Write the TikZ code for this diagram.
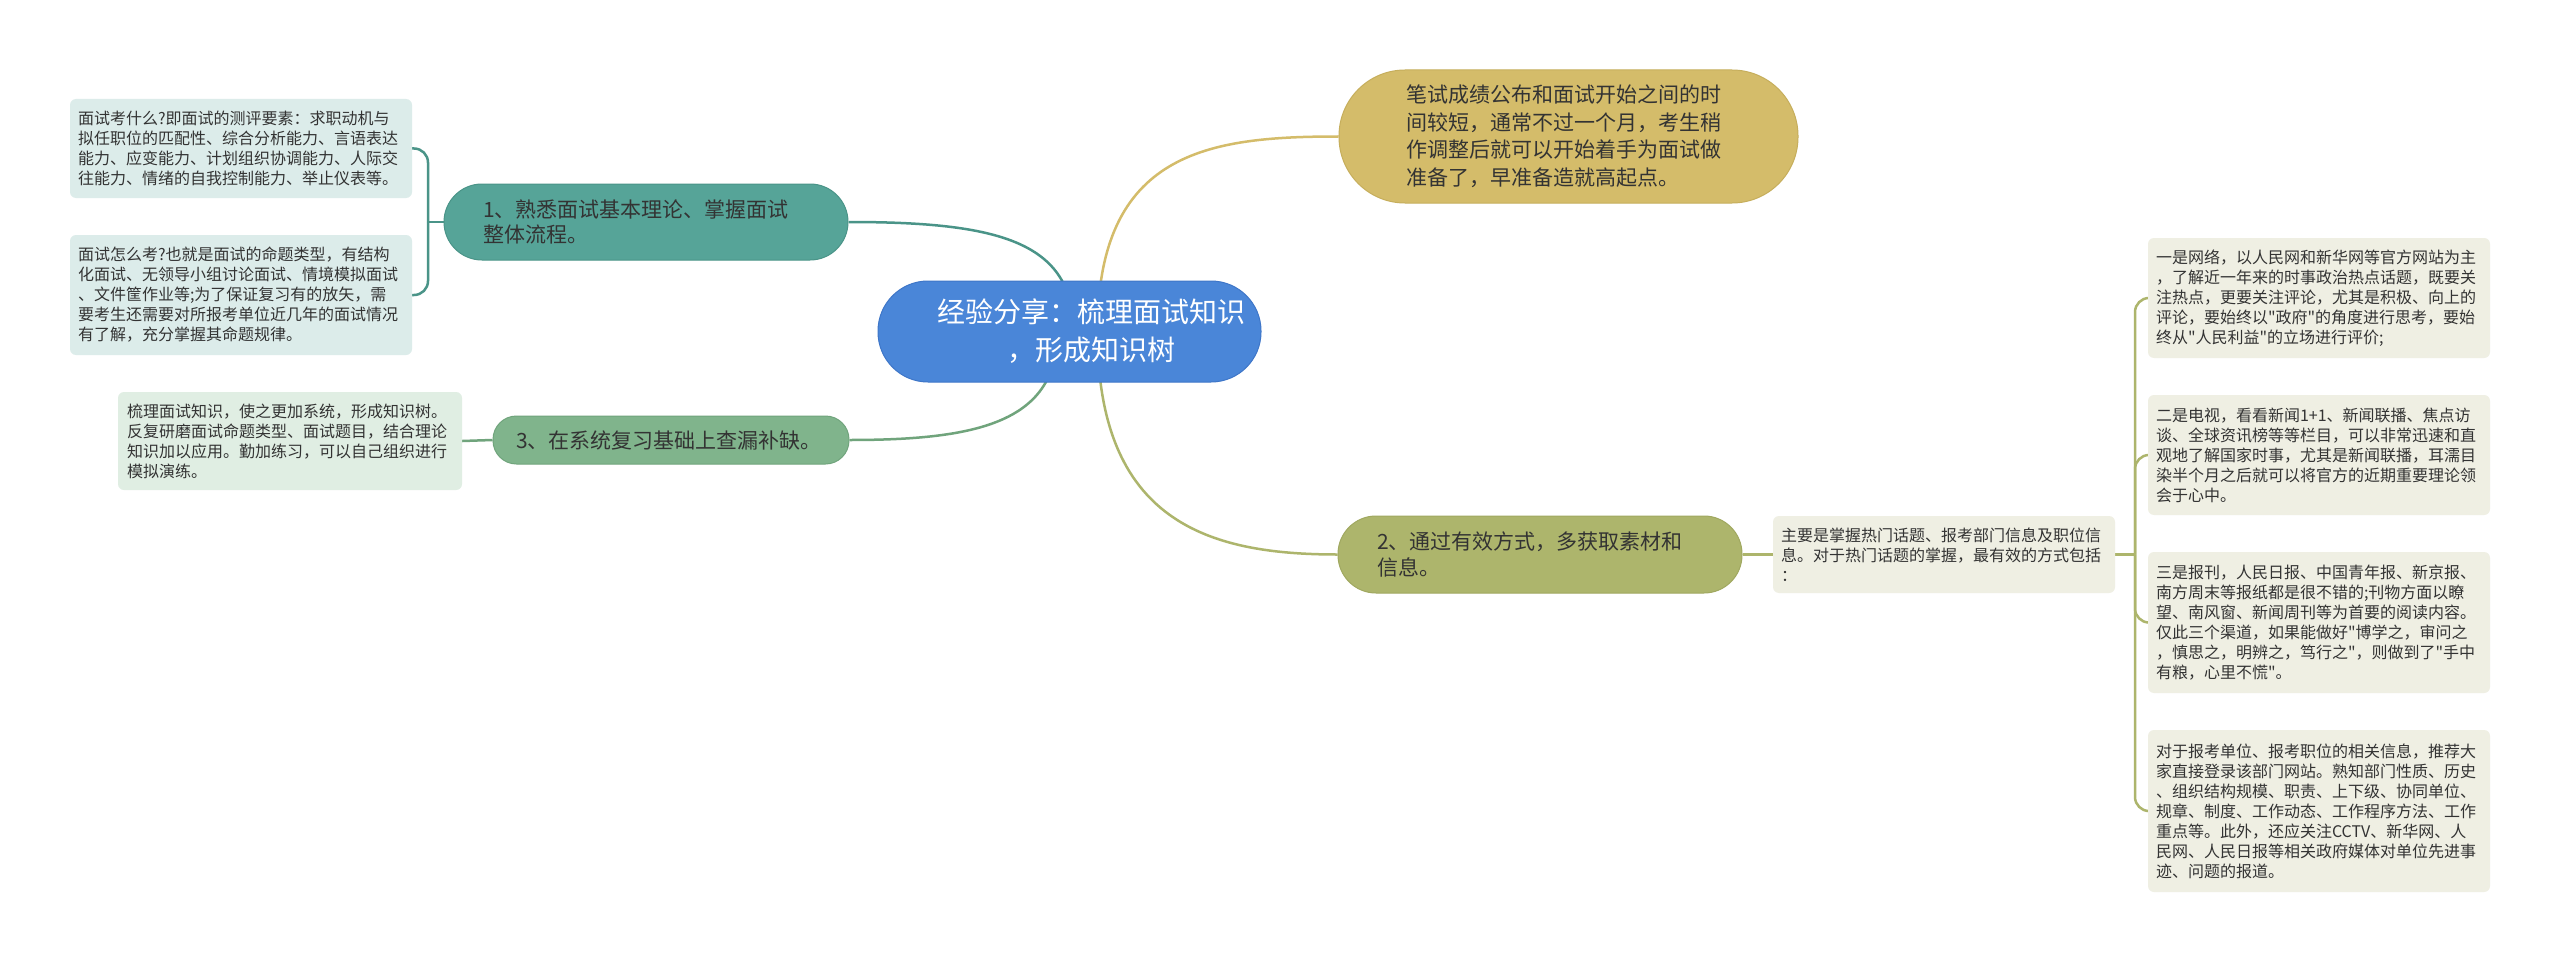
\documentclass[tikz,border=0pt]{standalone}
\usepackage{fontspec}
\setmainfont{Noto Sans CJK SC}[Ligatures=TeXOff]
\usetikzlibrary{calc}
\pgfdeclarelayer{bg}
\pgfsetlayers{bg,main}
\definecolor{cblue}{RGB}{74,134,216}
\definecolor{cblueb}{RGB}{62,118,200}
\definecolor{cteal}{RGB}{86,164,152}
\definecolor{ctealb}{RGB}{74,148,136}
\definecolor{cgreen}{RGB}{128,180,140}
\definecolor{cgreenb}{RGB}{112,164,124}
\definecolor{cgold}{RGB}{212,188,106}
\definecolor{cgoldb}{RGB}{198,174,92}
\definecolor{colive}{RGB}{173,181,108}
\definecolor{coliveb}{RGB}{160,168,96}
\definecolor{ltteal}{RGB}{220,236,234}
\definecolor{ltgreen}{RGB}{224,238,227}
\definecolor{ltolive}{RGB}{239,239,227}
\definecolor{txt}{RGB}{51,51,51}
\tikzset{
  x=1pt, y=-1pt,
  pill/.style={draw, line width=1pt, inner sep=0pt, align=left, text=txt,
    font=\fontsize{21}{25.5}\selectfont},
  leafbox/.style={inner sep=0pt, align=left, text=txt, rounded corners=6pt,
    font=\fontsize{16}{20}\selectfont},
  edge/.style={line width=2.5pt},
  bracket/.style={line width=2.5pt, rounded corners=14pt},
}
\begin{document}
\begin{tikzpicture}
\useasboundingbox (0,0) rectangle (2560,963);

% central
\node[draw=cblueb, fill=cblue, line width=1pt, inner sep=0pt, align=center, text=white,
  font=\fontsize{28}{38}\selectfont, rounded corners=50pt,
  minimum width=383pt, minimum height=101pt, text width=370pt] (c) at (1069.5,331.5)
  {\hspace*{44pt}经验分享：梳理面试知识\\\hspace*{44pt}，形成知识树};

% level 1
\node[pill, draw=cgoldb, fill=cgold, rounded corners=66pt, font=\fontsize{21}{27.5}\selectfont,
  minimum width=459pt, minimum height=133pt, text width=325pt] (y) at (1568.5,136.5)
  {笔试成绩公布和面试开始之间的时\\间较短，通常不过一个月，考生稍\\作调整后就可以开始着手为面试做\\准备了，早准备造就高起点。};

\node[pill, draw=ctealb, fill=cteal, rounded corners=38pt,
  minimum width=404pt, minimum height=76pt, text width=326pt] (n1) at (646,222)
  {1、熟悉面试基本理论、掌握面试\\整体流程。};

\node[pill, draw=cgreenb, fill=cgreen, rounded corners=23.5pt,
  minimum width=356pt, minimum height=48pt, text width=310pt] (n3) at (671,440)
  {3、在系统复习基础上查漏补缺。};

\node[pill, draw=coliveb, fill=colive, rounded corners=38pt,
  minimum width=404pt, minimum height=77pt, text width=326pt] (o) at (1540,554.5)
  {2、通过有效方式，多获取素材和\\信息。};

% left leaves
\node[leafbox, fill=ltteal, minimum width=342pt, minimum height=99pt, text width=326pt] (l1) at (241,148.5)
  {面试考什么?即面试的测评要素：求职动机与\\拟任职位的匹配性、综合分析能力、言语表达\\能力、应变能力、计划组织协调能力、人际交\\往能力、情绪的自我控制能力、举止仪表等。};
\node[leafbox, fill=ltteal, minimum width=342pt, minimum height=120pt, text width=326pt] (l2) at (241,295)
  {面试怎么考?也就是面试的命题类型，有结构\\化面试、无领导小组讨论面试、情境模拟面试\\、文件筐作业等;为了保证复习有的放矢，需\\要考生还需要对所报考单位近几年的面试情况\\有了解，充分掌握其命题规律。};
\node[leafbox, fill=ltgreen, minimum width=344pt, minimum height=98pt, text width=326pt] (l3) at (290,441)
  {梳理面试知识，使之更加系统，形成知识树。\\反复研磨面试命题类型、面试题目，结合理论\\知识加以应用。勤加练习，可以自己组织进行\\模拟演练。};

% right leaves
\node[leafbox, fill=ltolive, minimum width=342pt, minimum height=77pt, text width=326pt] (m) at (1944,554.5)
  {主要是掌握热门话题、报考部门信息及职位信\\息。对于热门话题的掌握，最有效的方式包括\\：};
\node[leafbox, fill=ltolive, minimum width=342pt, minimum height=120pt, text width=326pt] (ra) at (2319,298)
  {一是网络，以人民网和新华网等官方网站为主\\，了解近一年来的时事政治热点话题，既要关\\注热点，更要关注评论，尤其是积极、向上的\\评论，要始终以"政府"的角度进行思考，要始\\终从"人民利益"的立场进行评价;};
\node[leafbox, fill=ltolive, minimum width=342pt, minimum height=120pt, text width=326pt] (rb) at (2319,455)
  {二是电视，看看新闻1+1、新闻联播、焦点访\\谈、全球资讯榜等等栏目，可以非常迅速和直\\观地了解国家时事，尤其是新闻联播，耳濡目\\染半个月之后就可以将官方的近期重要理论领\\会于心中。};
\node[leafbox, fill=ltolive, minimum width=342pt, minimum height=141pt, text width=326pt] (rc) at (2319,622.5)
  {三是报刊，人民日报、中国青年报、新京报、\\南方周末等报纸都是很不错的;刊物方面以瞭\\望、南风窗、新闻周刊等为首要的阅读内容。\\仅此三个渠道，如果能做好"博学之，审问之\\，慎思之，明辨之，笃行之"，则做到了"手中\\有粮，心里不慌"。};
\node[leafbox, fill=ltolive, minimum width=342pt, minimum height=162pt, text width=326pt] (rd) at (2319,811)
  {对于报考单位、报考职位的相关信息，推荐大\\家直接登录该部门网站。熟知部门性质、历史\\、组织结构规模、职责、上下级、协同单位、\\规章、制度、工作动态、工作程序方法、工作\\重点等。此外，还应关注CCTV、新华网、人\\民网、人民日报等相关政府媒体对单位先进事\\迹、问题的报道。};

\coordinate (jl) at (428,222);
\coordinate (jr) at (2135,554.5);

\begin{pgfonlayer}{bg}
\fill[white] (0,0) rectangle (2560,963);
\draw[edge, draw=cgold] ($(c.center)+(28,0)$) .. controls +(0,-180) and ($(y.west)+(-130,0)$) .. (y.west);
\draw[edge, draw=ctealb] ($(c.center)+(4,0)$) .. controls +(0,-90) and ($(n1.east)+(150,0)$) .. (n1.east);
\draw[edge, draw=cgreenb] ($(c.center)+(-12,0)$) .. controls +(0,90) and ($(n3.east)+(130,0)$) .. (n3.east);
\draw[edge, draw=colive] ($(c.center)+(28,0)$) .. controls +(0,190) and ($(o.west)+(-130,0)$) .. (o.west);
\draw[edge, draw=ctealb] (n1.west) -- (jl);
\draw[bracket, draw=ctealb] (jl) |- (l1.east);
\draw[bracket, draw=ctealb] (jl) |- (l2.east);
\draw[edge, draw=cgreenb] (n3.west) -- (l3.east);
\draw[edge, draw=colive] (o.east) -- (m.west);
\draw[edge, draw=colive] (m.east) -- (jr);
\draw[bracket, draw=colive] (jr) |- (ra.west);
\draw[bracket, draw=colive] (jr) |- (rb.west);
\draw[bracket, draw=colive] (jr) |- (rc.west);
\draw[bracket, draw=colive] (jr) |- (rd.west);
\end{pgfonlayer}
\end{tikzpicture}
\end{document}
